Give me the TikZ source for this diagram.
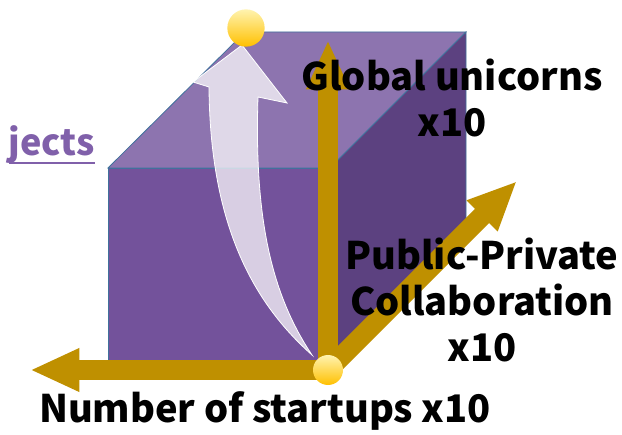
\documentclass[tikz,border=0pt]{standalone}
\usepackage{fontspec}
\setmainfont{Noto Sans CJK JP}
\usetikzlibrary{arrows.meta}
\definecolor{frontface}{RGB}{115,82,155}
\definecolor{topface}{RGB}{141,116,175}
\definecolor{sideface}{RGB}{92,65,128}
\definecolor{edgeblue}{RGB}{65,113,156}
\definecolor{axisgold}{RGB}{191,144,0}
\definecolor{linkpurple}{RGB}{128,96,170}
\definecolor{balltop}{RGB}{255,243,175}
\definecolor{ballbottom}{RGB}{255,192,0}
\tikzset{
  face/.style={draw=edgeblue, line width=0.6pt},
  axis/.style={draw=axisgold, line width=15pt, -{Triangle[width=30pt,length=37pt]}},
  ball/.style={circle, inner sep=0pt, minimum size=#1, top color=balltop, bottom color=ballbottom},
  axislabel/.style={font=\bfseries\fontsize{28.5}{34.5}\selectfont, align=center, inner sep=0pt}
}
\begin{document}
\begin{tikzpicture}[x=0.75pt, y=-0.75pt]
  \useasboundingbox (0,0) rectangle (622,435);
  \coordinate (O) at (328,370);
  \coordinate (xtip) at (30,370);
  \coordinate (ytip) at (328,40);
  \coordinate (ztip) at (517,181);
  \filldraw[face, fill=frontface] (108,168) rectangle (330,362);
  \filldraw[face, fill=topface] (108,168) -- (245,32) -- (466,32) -- (330,168) -- cycle;
  \filldraw[face, fill=sideface] (330,168) -- (466,32) -- (466,226) -- (330,362) -- cycle;
  \filldraw[white, fill opacity=0.72, line width=0.6pt]
    (242,45) -- (287,103) -- (258,97)
    .. controls (254,220) and (272,295) .. (312,355)
    .. controls (250,300) and (210,220) .. (209,87)
    -- (193,82) -- cycle;
  \begin{scope}[axis]
    \draw (O) -- (xtip);
    \draw (O) -- (ytip);
    \draw (O) -- (ztip);
  \end{scope}
  \node[ball=22.5pt] (origin) at (O) {};
  \node[ball=28pt] (peak) at (246,28) {};
  \node[axislabel] (unicorns) at (452,98) {Global unicorns\\x10};
  \node[axislabel] (collab) at (482,300) {Public-Private\\Collaboration\\x10};
  \node[axislabel] (startups) at (265,411) {Number of startups x10};
  \node[font=\bfseries\fontsize{27}{30}\selectfont, text=linkpurple, inner sep=0pt, anchor=base east] (link) at (95,156) {jects};
  \draw[linkpurple, line width=1.5pt] ([yshift=-5pt]link.base west) -- ([yshift=-5pt]link.base east);
\end{tikzpicture}
\end{document}
